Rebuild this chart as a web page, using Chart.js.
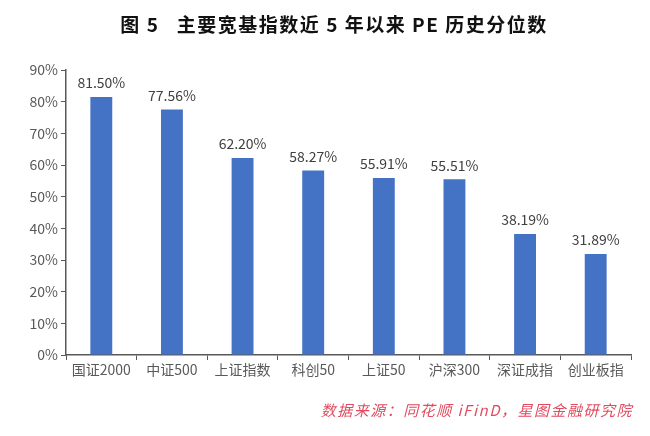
<!DOCTYPE html>
<html>
<head>
<meta charset="utf-8">
<script src="https://cdn.jsdelivr.net/npm/chart.js@4"></script>
<style>
  html, body { margin: 0; padding: 0; background: #ffffff; }
  #wrap { width: 650px; height: 436px; }
</style>
</head>
<body>
<div id="wrap"><canvas id="chart" width="650" height="436"></canvas></div>
<script>
// --- data ---
const categories = ['国证2000', '中证500', '上证指数', '科创50', '上证50', '沪深300', '深证成指', '创业板指'];
const peQuantile = [81.50, 77.56, 62.20, 58.27, 55.91, 55.51, 38.19, 31.89];
const titleText = '图 5   主要宽基指数近 5 年以来 PE 历史分位数';
const sourceText = '数据来源：同花顺 iFinD，星图金融研究院';

const FONT = '"Noto Sans CJK SC", "Noto Sans", sans-serif';
const BAR_BLUE = '#4472C4';
const AXIS_GREY = '#595959';

// title, source note and value labels drawn onto the canvas
const textPlugin = {
    id: 'textPlugin',
    afterDraw(chart) {
        const ctx = chart.ctx;
        ctx.save();

        // title
        ctx.fillStyle = '#111111';
        ctx.font = 'bold 19px ' + FONT;
        ctx.letterSpacing = '1.5px';
        ctx.textAlign = 'center';
        ctx.textBaseline = 'middle';
        ctx.fillText(titleText, 334, 25);
        ctx.letterSpacing = '0px';

        // value labels above each bar
        ctx.fillStyle = '#404040';
        ctx.font = '14px ' + FONT;
        ctx.textBaseline = 'bottom';
        const meta = chart.getDatasetMeta(0);
        meta.data.forEach((bar, i) => {
            ctx.fillText(peQuantile[i].toFixed(2) + '%', bar.x, bar.y - 7);
        });

        // source note
        ctx.fillStyle = '#E24A5E';
        ctx.font = 'italic 15px ' + FONT;
        ctx.letterSpacing = '1.5px';
        ctx.textAlign = 'right';
        ctx.textBaseline = 'middle';
        ctx.fillText(sourceText, 633, 410);

        ctx.restore();
    }
};

new Chart(document.getElementById('chart'), {
    type: 'bar',
    data: {
        labels: categories,
        datasets: [{
            data: peQuantile,
            backgroundColor: BAR_BLUE,
            borderWidth: 0,
            barPercentage: 0.31,
            categoryPercentage: 1
        }]
    },
    options: {
        responsive: false,
        animation: false,
        layout: { padding: { top: 70, right: 19, bottom: 0, left: 0 } },
        plugins: {
            legend: { display: false },
            tooltip: { enabled: false }
        },
        scales: {
            x: {
                offset: true,
                grid: {
                    offset: true,
                    drawOnChartArea: false,
                    drawTicks: true,
                    tickLength: 5,
                    color: AXIS_GREY
                },
                border: { display: true, color: AXIS_GREY, width: 1.5 },
                ticks: {
                    color: AXIS_GREY,
                    font: { family: FONT, size: 14 },
                    padding: 1,
                    maxRotation: 0,
                    autoSkip: false
                },
                afterFit(scale) { scale.height = 81; }
            },
            y: {
                min: 0,
                max: 90,
                grid: {
                    drawOnChartArea: false,
                    drawTicks: true,
                    tickLength: 5,
                    color: AXIS_GREY
                },
                border: { display: true, color: AXIS_GREY, width: 1.5 },
                ticks: {
                    stepSize: 10,
                    color: AXIS_GREY,
                    font: { family: FONT, size: 14 },
                    padding: 3,
                    callback: v => v + '%'
                },
                afterFit(scale) { scale.width = 66; }
            }
        }
    },
    plugins: [textPlugin]
});
</script>
</body>
</html>
